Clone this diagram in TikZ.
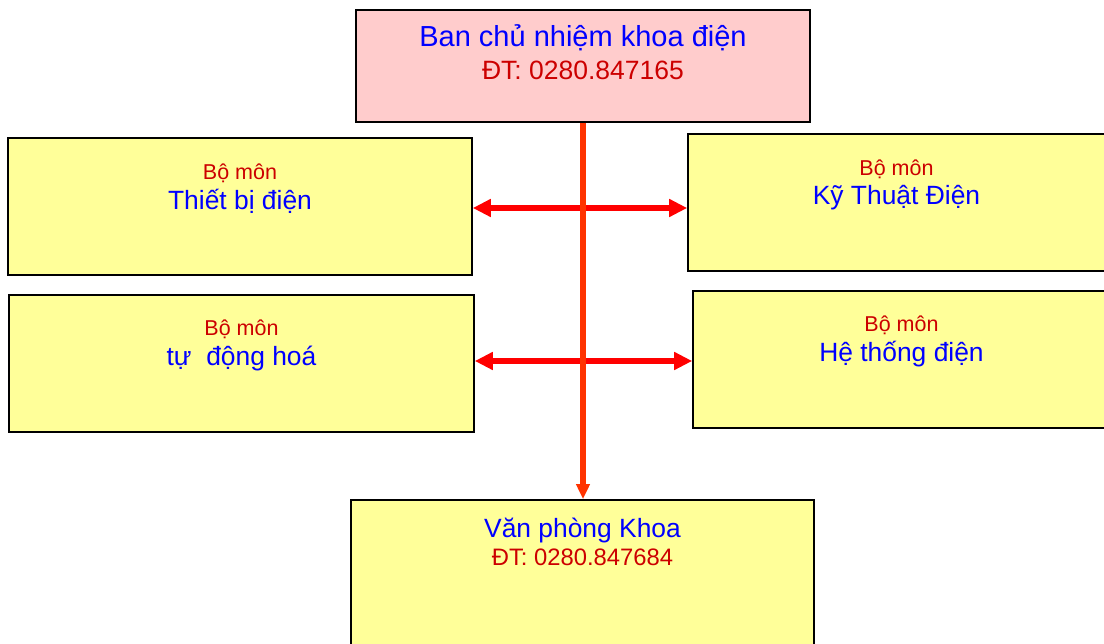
\documentclass[tikz,border=0pt]{standalone}
\usepackage{fontspec}
\setmainfont{Liberation Sans}
\usetikzlibrary{arrows.meta}
\definecolor{boxyellow}{HTML}{FFFF99}
\definecolor{boxpink}{HTML}{FFCCCC}
\definecolor{txtblue}{HTML}{0000FF}
\definecolor{txtred}{HTML}{CC0000}
\definecolor{vred}{HTML}{FF3300}
\definecolor{hred}{HTML}{FF0000}
\begin{document}
\begin{tikzpicture}[x=1pt,y=-1pt,
  box/.style={draw=black, line width=1.6pt, rectangle, inner sep=0pt, fill=boxyellow, minimum height=137pt},
  title/.style={anchor=base, text=txtblue, inner sep=0pt, font=\fontsize{26.4}{30}\selectfont},
  sub/.style={anchor=base, text=txtred, inner sep=0pt, font=\fontsize{21.5}{25}\selectfont},
  harrow/.style={draw=hred, line width=6pt, {Triangle[length=18pt,width=17pt]}-{Triangle[length=18pt,width=17pt]}},
  varrow/.style={draw=vred, line width=6pt, -{Triangle[length=15pt,width=13pt]}}
]
\useasboundingbox (0,0) rectangle (1104,644);
% boxes
\node[box, fill=boxpink, minimum width=454pt, minimum height=112pt] (ban) at (583,66) {};
\node[box, minimum width=464pt] (tbd) at (240,206.5) {};
\node[box, minimum width=465pt] (tdh) at (241.5,363.5) {};
\node[box, minimum width=440pt] (ktd) at (908,202.5) {};
\node[box, minimum width=440pt] (htd) at (913,359.5) {};
\node[box, minimum width=463pt, minimum height=170pt] (vpk) at (582.5,585) {};
% texts
\node[title, font=\fontsize{29}{34}\selectfont] (bant) at (583,47) {Ban chủ nhiệm khoa điện};
\node[sub, font=\fontsize{26.5}{30}\selectfont] (banp) at (583,80) {ĐT: 0280.847165};
\node[sub] (tbds) at (240,180) {Bộ môn};
\node[title] (tbdt) at (240,210) {Thiết bị điện};
\node[sub] (tdhs) at (241.5,336) {Bộ môn};
\node[title] (tdht) at (241.5,366) {tự\ \ động hoá};
\node[sub] (ktds) at (896.5,176) {Bộ môn};
\node[title] (ktdt) at (896.5,205) {Kỹ Thuật Điện};
\node[sub] (htds) at (901.5,332) {Bộ môn};
\node[title] (htdt) at (901.5,362) {Hệ thống điện};
\node[title] (vpkt) at (582.5,537) {Văn phòng Khoa};
\node[sub, font=\fontsize{23.8}{28}\selectfont] (vpkp) at (582.5,565) {ĐT: 0280.847684};
% connectors
\coordinate (h1) at (0,208);
\coordinate (h2) at (0,361);
\draw[harrow] (tbd.east |- h1) -- (ktd.west |- h1);
\draw[harrow] (tdh.east |- h2) -- (htd.west |- h2);
\draw[varrow] (ban.south) -- (ban.south |- vpk.north);
\end{tikzpicture}
\end{document}
